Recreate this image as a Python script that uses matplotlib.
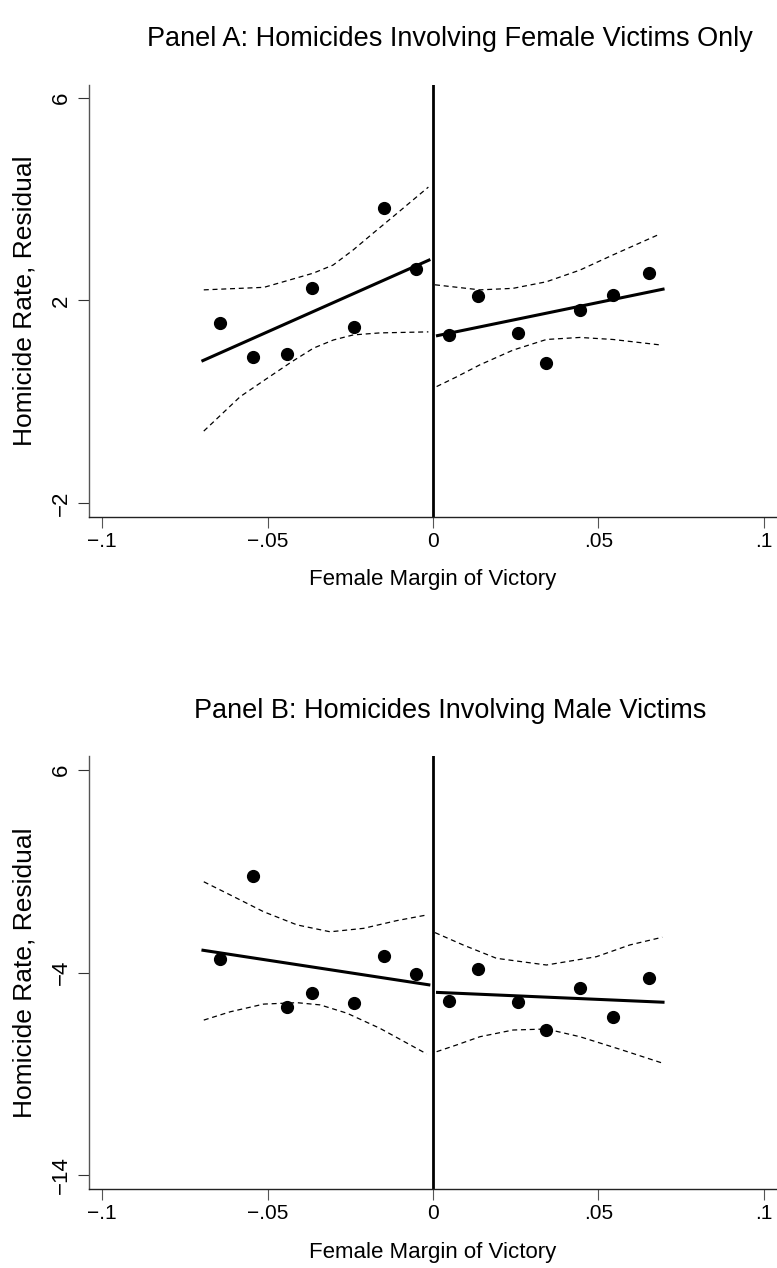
#! /usr/bin/env python3
"""
RD plots of homicide rate residuals against the female margin of victory
"""
import matplotlib
matplotlib.use('Agg')
from matplotlib import pyplot as plt

plt.rcParams['font.family'] = ['Liberation Sans', 'DejaVu Sans']

# binned means, panel A (female victims only)
a_x = [-0.0643, -0.0545, -0.0440, -0.0365, -0.0238, -0.0148, -0.0052,
       0.0048, 0.0137, 0.0257, 0.0342, 0.0444, 0.0544, 0.0653]
a_y = [1.55, 0.89, 0.94, 2.24, 1.48, 3.83, 2.62,
       1.32, 2.09, 1.36, 0.77, 1.82, 2.11, 2.55]
# linear fits on each side of the cutoff
a_fit_left_x = [-0.07, -0.0008]
a_fit_left_y = [0.80, 2.81]
a_fit_right_x = [0.0009, 0.07]
a_fit_right_y = [1.30, 2.23]
# confidence bands
a_ci_left_x = [-0.0693, -0.0583, -0.0502, -0.0427, -0.0361, -0.0301, -0.0241, -0.0160, -0.0014]
a_ci_left_lo = [-0.58, 0.10, 0.46, 0.79, 1.06, 1.22, 1.32, 1.36, 1.38]
a_ci_left_hi_x = [-0.0693, -0.0511, -0.0431, -0.0362, -0.0302, -0.0241, -0.0181, -0.0120, -0.0014]
a_ci_left_hi = [2.21, 2.26, 2.41, 2.54, 2.70, 3.00, 3.33, 3.66, 4.24]
a_ci_right_hi_x = [0.0006, 0.0142, 0.0242, 0.0343, 0.0444, 0.0544, 0.0685]
a_ci_right_hi = [2.31, 2.21, 2.24, 2.37, 2.60, 2.90, 3.31]
a_ci_right_lo_x = [0.0011, 0.0071, 0.0142, 0.0242, 0.0343, 0.0444, 0.0544, 0.0690]
a_ci_right_lo = [0.30, 0.49, 0.73, 1.02, 1.23, 1.27, 1.23, 1.12]
a_yticks = [-2, 2, 6]

# binned means, panel B (male victims)
b_x = a_x
b_y = [-3.33, 0.75, -5.72, -5.03, -5.52, -3.19, -4.07,
       -5.41, -3.84, -5.44, -6.85, -4.75, -6.18, -4.26]
b_fit_left_x = [-0.07, -0.0008]
b_fit_left_y = [-2.89, -4.62]
b_fit_right_x = [0.0009, 0.07]
b_fit_right_y = [-4.98, -5.47]
b_ci_left_x = [-0.0693, -0.0613, -0.0512, -0.0411, -0.0311, -0.0210, -0.0110, -0.0019]
b_ci_left_hi = [0.48, -0.17, -1.00, -1.65, -1.99, -1.82, -1.44, -1.16]
b_ci_left_lo_x = [-0.0693, -0.0613, -0.0512, -0.0411, -0.0341, -0.0260, -0.0160, -0.0019]
b_ci_left_lo = [-6.35, -5.94, -5.56, -5.49, -5.60, -6.01, -6.76, -8.02]
b_ci_right_hi_x = [0.0006, 0.0091, 0.0192, 0.0343, 0.0494, 0.0595, 0.0693]
b_ci_right_hi = [-2.03, -2.64, -3.30, -3.63, -3.22, -2.64, -2.26]
b_ci_right_lo_x = [0.0011, 0.0071, 0.0142, 0.0242, 0.0343, 0.0444, 0.0565, 0.0693]
b_ci_right_lo = [-7.91, -7.58, -7.17, -6.84, -6.79, -7.17, -7.79, -8.47]
b_yticks = [-14, -4, 6]

xticks = [-0.1, -0.05, 0, 0.05, 0.1]
xticklabels = ['\u2212.1', '\u2212.05', '0', '.05', '.1']

W, H = 777, 1268


def panel(ax, title, top, x, y, fits, bands, yticks, ylim):
    dash = (0, (4, 3))
    for bx, by in bands:
        ax.plot(bx, by, color='black', lw=0.9, linestyle=dash)
    for fx, fy in fits:
        ax.plot(fx, fy, color='black', lw=2.2, solid_capstyle='butt')
    ax.plot(x, y, 'o', color='black', ms=8.5, mec='black')
    ax.axvline(0, color='black', lw=2.0)
    ax.set_xlim(-0.104, 0.104)
    ax.set_ylim(*ylim)
    ax.set_xticks(xticks)
    ax.set_xticklabels(xticklabels)
    ax.set_yticks(yticks)
    ax.set_yticklabels(['\u2212%d' % -t if t < 0 else '%d' % t for t in yticks],
                       rotation=90, va='center')
    ax.tick_params(axis='x', length=8, width=0.8, color='#555555', pad=3, labelsize=15)
    ax.tick_params(axis='y', length=8, width=0.8, color='#333333', pad=4, labelsize=16)
    for s in ('top', 'right'):
        ax.spines[s].set_visible(False)
    ax.spines['left'].set_color('#555555')
    ax.spines['bottom'].set_color('#222222')
    ax.spines['left'].set_linewidth(1.0)
    ax.spines['bottom'].set_linewidth(1.0)
    ax.set_xlabel('Female Margin of Victory', fontsize=16, va='center')
    ax.set_ylabel('Homicide Rate, Residual', fontsize=19, va='center')
    ax.xaxis.set_label_coords(0.5, (517 - 580) / 432)
    ax.yaxis.set_label_coords((25 - 89) / (W - 89), 0.5)
    fig.text(450 / W, 1 - (top + 46) / H, title, fontsize=19.5,
             ha='center', va='baseline')


fig = plt.figure(figsize=(W / 100, H / 100), dpi=100)
ax_a = fig.add_axes([89 / W, 1 - 517 / H, (W - 89) / W, 432 / H])
ax_b = fig.add_axes([89 / W, 1 - 1189 / H, (W - 89) / W, 433 / H])

panel(ax_a, 'Panel A: Homicides Involving Female Victims Only', 0, a_x, a_y,
      [(a_fit_left_x, a_fit_left_y), (a_fit_right_x, a_fit_right_y)],
      [(a_ci_left_x, a_ci_left_lo), (a_ci_left_hi_x, a_ci_left_hi),
       (a_ci_right_hi_x, a_ci_right_hi), (a_ci_right_lo_x, a_ci_right_lo)],
      a_yticks, (-2.277, 6.257))
panel(ax_b, 'Panel B: Homicides Involving Male Victims', 672, b_x, b_y,
      [(b_fit_left_x, b_fit_left_y), (b_fit_right_x, b_fit_right_y)],
      [(b_ci_left_x, b_ci_left_hi), (b_ci_left_lo_x, b_ci_left_lo),
       (b_ci_right_hi_x, b_ci_right_hi), (b_ci_right_lo_x, b_ci_right_lo)],
      b_yticks, (-14.69, 6.69))

fig.savefig('out.png', dpi=100)
